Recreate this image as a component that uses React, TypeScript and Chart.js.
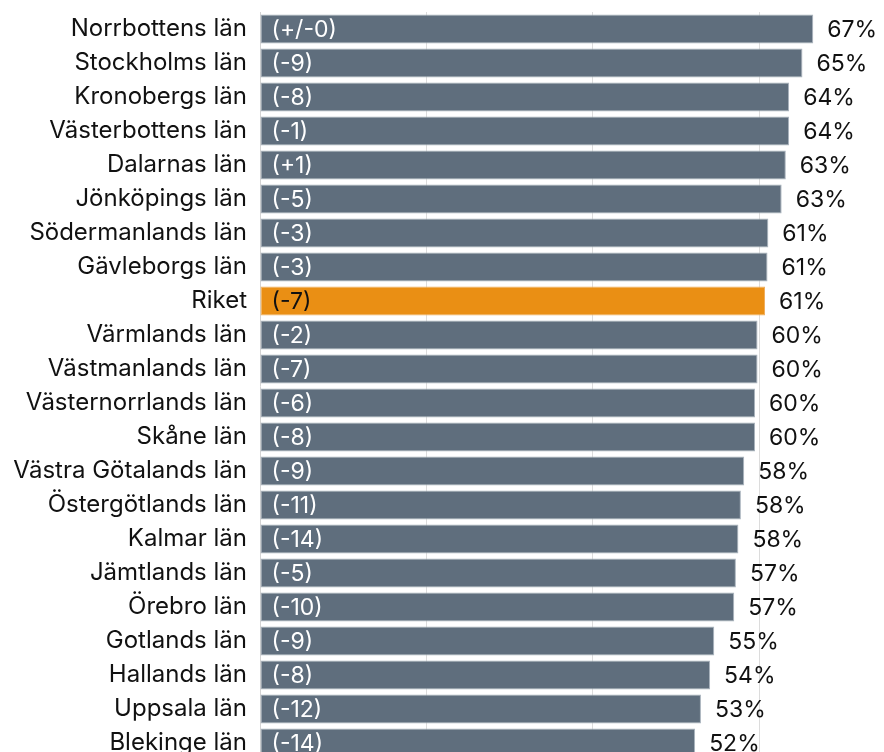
import React, { useEffect, useRef } from "react";
import { Chart, registerables } from "chart.js";

Chart.register(...registerables);

const categories = [
  "Norrbottens län",
  "Stockholms län",
  "Kronobergs län",
  "Västerbottens län",
  "Dalarnas län",
  "Jönköpings län",
  "Södermanlands län",
  "Gävleborgs län",
  "Riket",
  "Värmlands län",
  "Västmanlands län",
  "Västernorrlands län",
  "Skåne län",
  "Västra Götalands län",
  "Östergötlands län",
  "Kalmar län",
  "Jämtlands län",
  "Örebro län",
  "Gotlands län",
  "Hallands län",
  "Uppsala län",
  "Blekinge län",
];

const values = [
  66.5, 65.2, 63.6, 63.6, 63.2, 62.7, 61.1, 61.0, 60.7, 59.8, 59.8, 59.5, 59.5,
  58.2, 57.8, 57.5, 57.2, 57.0, 54.6, 54.1, 53.0, 52.3,
];

const valueLabels = [
  "67%", "65%", "64%", "64%", "63%", "63%", "61%", "61%", "61%", "60%", "60%",
  "60%", "60%", "58%", "58%", "58%", "57%", "57%", "55%", "54%", "53%", "52%",
];

const changeLabels = [
  "(+/-0)", "(-9)", "(-8)", "(-1)", "(+1)", "(-5)", "(-3)", "(-3)", "(-7)",
  "(-2)", "(-7)", "(-6)", "(-8)", "(-9)", "(-11)", "(-14)", "(-5)", "(-10)",
  "(-9)", "(-8)", "(-12)", "(-14)",
];

const highlight = "Riket";
const FONT = "Inter, 'Noto Sans', sans-serif";

export default function App() {
  const ref = useRef<HTMLCanvasElement | null>(null);

  useEffect(() => {
    if (!ref.current) return;
    const labelPlugin = {
      id: "barLabels",
      afterDatasetsDraw(chart: any) {
        const ctx = chart.ctx;
        const meta = chart.getDatasetMeta(0);
        ctx.save();
        ctx.font = `23px ${FONT}`;
        ctx.textBaseline = "middle";
        ctx.textAlign = "left";
        meta.data.forEach((bar: any, i: number) => {
          const isHi = categories[i] === highlight;
          ctx.fillStyle = isHi ? "#111111" : "#ffffff";
          ctx.fillText(changeLabels[i], bar.base + 11, bar.y + 1);
          ctx.fillStyle = "#111111";
          ctx.fillText(valueLabels[i], bar.x + 14, bar.y + 1);
        });
        ctx.restore();
      },
    };

    const chart = new Chart(ref.current, {
      type: "bar",
      data: {
        labels: categories,
        datasets: [
          {
            data: values,
            backgroundColor: categories.map((c) =>
              c === highlight ? "#ea8f14" : "#5f6e7d"
            ),
            borderColor: categories.map((c) =>
              c === highlight ? "#f0b060" : "#a9b3bd"
            ),
            borderWidth: 1,
            borderSkipped: false,
            categoryPercentage: 1,
            barPercentage: 0.85,
          },
        ],
      },
      options: {
        indexAxis: "y",
        animation: false,
        responsive: false,
        maintainAspectRatio: false,
        layout: { padding: { top: 12, right: 0, bottom: 0, left: 0 } },
        plugins: {
          legend: { display: false },
          tooltip: { enabled: false },
        },
        scales: {
          x: {
            min: 0,
            max: 75,
            afterFit: (scale: any) => {
              scale.height = 0;
              scale.paddingLeft = 0;
              scale.paddingRight = 0;
            },
            ticks: { display: false, stepSize: 20 },
            border: { display: false },
            grid: {
              drawTicks: false,
              color: (c: any) =>
                c.tick && (c.tick.value === 20 || c.tick.value === 40 || c.tick.value === 60)
                  ? "#dcdcdc"
                  : "rgba(0,0,0,0)",
              lineWidth: 1,
            },
          },
          y: {
            afterFit: (scale: any) => {
              scale.width = 260;
              scale.paddingTop = 0;
              scale.paddingBottom = 0;
            },
            ticks: {
              color: "#111111",
              padding: 13,
              font: { family: FONT, size: 24 },
              autoSkip: false,
            },
            grid: { display: false, drawTicks: false },
            border: { display: true, color: "#d4d4d4", width: 1 },
          },
        },
      },
      plugins: [labelPlugin],
    });
    return () => chart.destroy();
  }, []);

  return (
    <div style={{ position: "fixed", left: 0, top: 0, width: 884, height: 760, background: "#fff" }}>
      <canvas ref={ref} width={884} height={760} style={{ width: 884, height: 760, display: "block" }} />
    </div>
  );
}
